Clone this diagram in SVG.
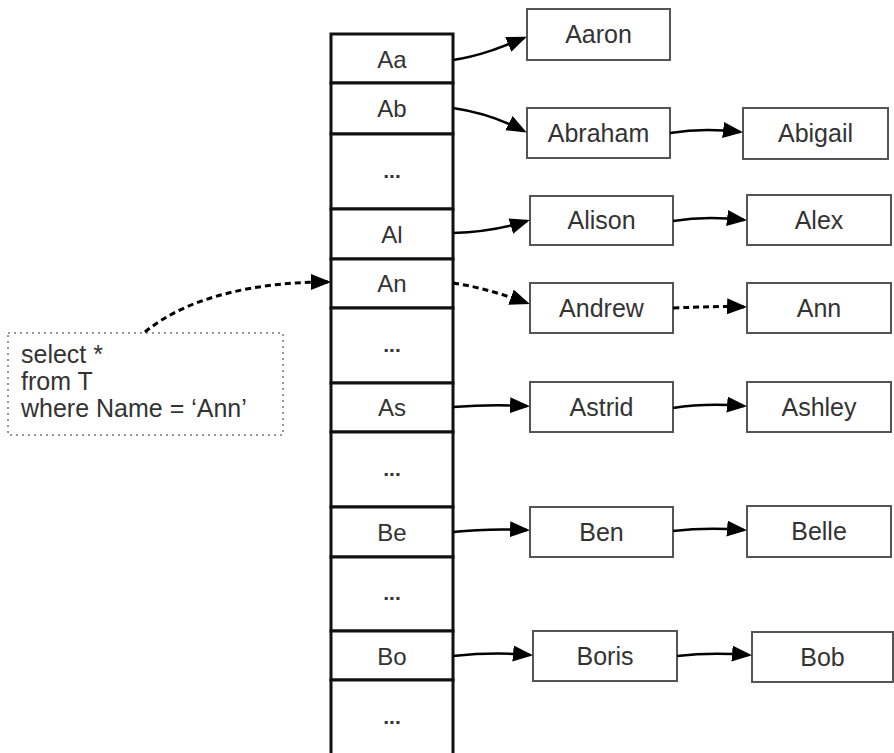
<svg xmlns="http://www.w3.org/2000/svg" width="894" height="753" viewBox="0 0 894 753">
<defs>
<marker id="ah" markerUnits="userSpaceOnUse" markerWidth="22" markerHeight="18" refX="17" refY="8" orient="auto">
<path d="M0,0 L20,8 L0,16 z" fill="#000"/>
</marker>
<style>
.cell{fill:#fff;stroke:#111;stroke-width:3}
.box{fill:#fff;stroke:#555;stroke-width:2}
.t{font-family:"Liberation Sans",Arial,sans-serif;font-size:24px;fill:#333;text-anchor:middle}
.n{font-family:"Liberation Sans",Arial,sans-serif;font-size:25px;fill:#333;text-anchor:middle}
.d{font-family:"Liberation Sans",Arial,sans-serif;font-size:21px;fill:#333;text-anchor:middle;font-weight:bold}
.q{font-family:"Liberation Sans",Arial,sans-serif;font-size:25px;fill:#333}
.e{fill:none;stroke:#000;stroke-width:2.5;marker-end:url(#ah)}
.dash{stroke-dasharray:6 4;stroke-width:3}
</style>
</defs>
<rect width="894" height="753" fill="#fff"/>

<g id="column">
<g id="c-Aa"><rect class="cell" x="331" y="34" width="122" height="49"/><text class="t" x="392" y="68">Aa</text></g>
<g id="c-Ab"><rect class="cell" x="331" y="83" width="122" height="51"/><text class="t" x="392" y="117">Ab</text></g>
<g id="c-e1"><rect class="cell" x="331" y="134" width="122" height="75"/><text class="d" x="392" y="178">...</text></g>
<g id="c-Al"><rect class="cell" x="331" y="209" width="122" height="50"/><text class="t" x="392" y="243">Al</text></g>
<g id="c-An"><rect class="cell" x="331" y="259" width="122" height="49"/><text class="t" x="392" y="292">An</text></g>
<g id="c-e2"><rect class="cell" x="331" y="308" width="122" height="75"/><text class="d" x="392" y="352">...</text></g>
<g id="c-As"><rect class="cell" x="331" y="383" width="122" height="49"/><text class="t" x="392" y="416">As</text></g>
<g id="c-e3"><rect class="cell" x="331" y="432" width="122" height="75"/><text class="d" x="392" y="476">...</text></g>
<g id="c-Be"><rect class="cell" x="331" y="507" width="122" height="50"/><text class="t" x="392" y="541">Be</text></g>
<g id="c-e4"><rect class="cell" x="331" y="557" width="122" height="74"/><text class="d" x="392" y="600">...</text></g>
<g id="c-Bo"><rect class="cell" x="331" y="631" width="122" height="49"/><text class="t" x="392" y="665">Bo</text></g>
<g id="c-e5"><rect class="cell" x="331" y="680" width="122" height="90"/><text class="d" x="392" y="724">...</text></g>
</g>

<g id="n-Aaron"><rect class="box" x="527" y="9" width="143" height="51"/><text class="n" x="598.5" y="43">Aaron</text></g>
<g id="n-Abraham"><rect class="box" x="527" y="108" width="143" height="50"/><text class="n" x="598.5" y="142">Abraham</text></g>
<g id="n-Abigail"><rect class="box" x="743" y="108" width="145" height="51"/><text class="n" x="815.5" y="142">Abigail</text></g>
<g id="n-Alison"><rect class="box" x="530" y="196" width="143" height="49"/><text class="n" x="601.5" y="229">Alison</text></g>
<g id="n-Alex"><rect class="box" x="747" y="195" width="144" height="50"/><text class="n" x="819" y="229">Alex</text></g>
<g id="n-Andrew"><rect class="box" x="530" y="283" width="143" height="50"/><text class="n" x="601.5" y="317">Andrew</text></g>
<g id="n-Ann"><rect class="box" x="747" y="283" width="144" height="50"/><text class="n" x="819" y="317">Ann</text></g>
<g id="n-Astrid"><rect class="box" x="530" y="382" width="143" height="50"/><text class="n" x="601.5" y="416">Astrid</text></g>
<g id="n-Ashley"><rect class="box" x="747" y="382" width="144" height="50"/><text class="n" x="819" y="416">Ashley</text></g>
<g id="n-Ben"><rect class="box" x="530" y="507" width="143" height="50"/><text class="n" x="601.5" y="541">Ben</text></g>
<g id="n-Belle"><rect class="box" x="747" y="506" width="144" height="51"/><text class="n" x="819" y="540">Belle</text></g>
<g id="n-Boris"><rect class="box" x="533" y="631" width="144" height="50"/><text class="n" x="605" y="665">Boris</text></g>
<g id="n-Bob"><rect class="box" x="752" y="632" width="141" height="50"/><text class="n" x="822.5" y="666">Bob</text></g>

<g id="query">
<rect x="8" y="333" width="275" height="102" fill="#fff" stroke="#999" stroke-width="2" stroke-dasharray="2 4"/>
<text class="q" x="21" y="363">select *</text>
<text class="q" x="21" y="390">from T</text>
<text class="q" x="21" y="417">where Name = ‘Ann’</text>
</g>

<g id="connectors">
<path class="e" d="M453,60 C480,56 502,47 524,38"/>
<path class="e" d="M453,108 C480,112 503,120 524,131"/>
<path class="e" d="M670,133 C695,129 715,129 740,132"/>
<path class="e" d="M453,233 C485,232 505,228 527,221"/>
<path class="e" d="M673,221 C698,217 718,217 744,220"/>
<path class="e dash" d="M453,283 C480,287 505,295 527,303"/>
<path class="e dash" d="M673,308 C700,307 718,306 744,307"/>
<path class="e dash" d="M145,332 C190,295 260,282 328,282"/>
<path class="e" d="M453,407 C480,405 505,405 527,406"/>
<path class="e" d="M673,408 C698,404 720,404 744,406"/>
<path class="e" d="M453,532 C480,529 505,529 527,530"/>
<path class="e" d="M673,531 C698,528 720,528 744,530"/>
<path class="e" d="M453,656 C482,653 508,653 530,655"/>
<path class="e" d="M677,656 C702,653 725,653 749,655"/>
</g>
</svg>
